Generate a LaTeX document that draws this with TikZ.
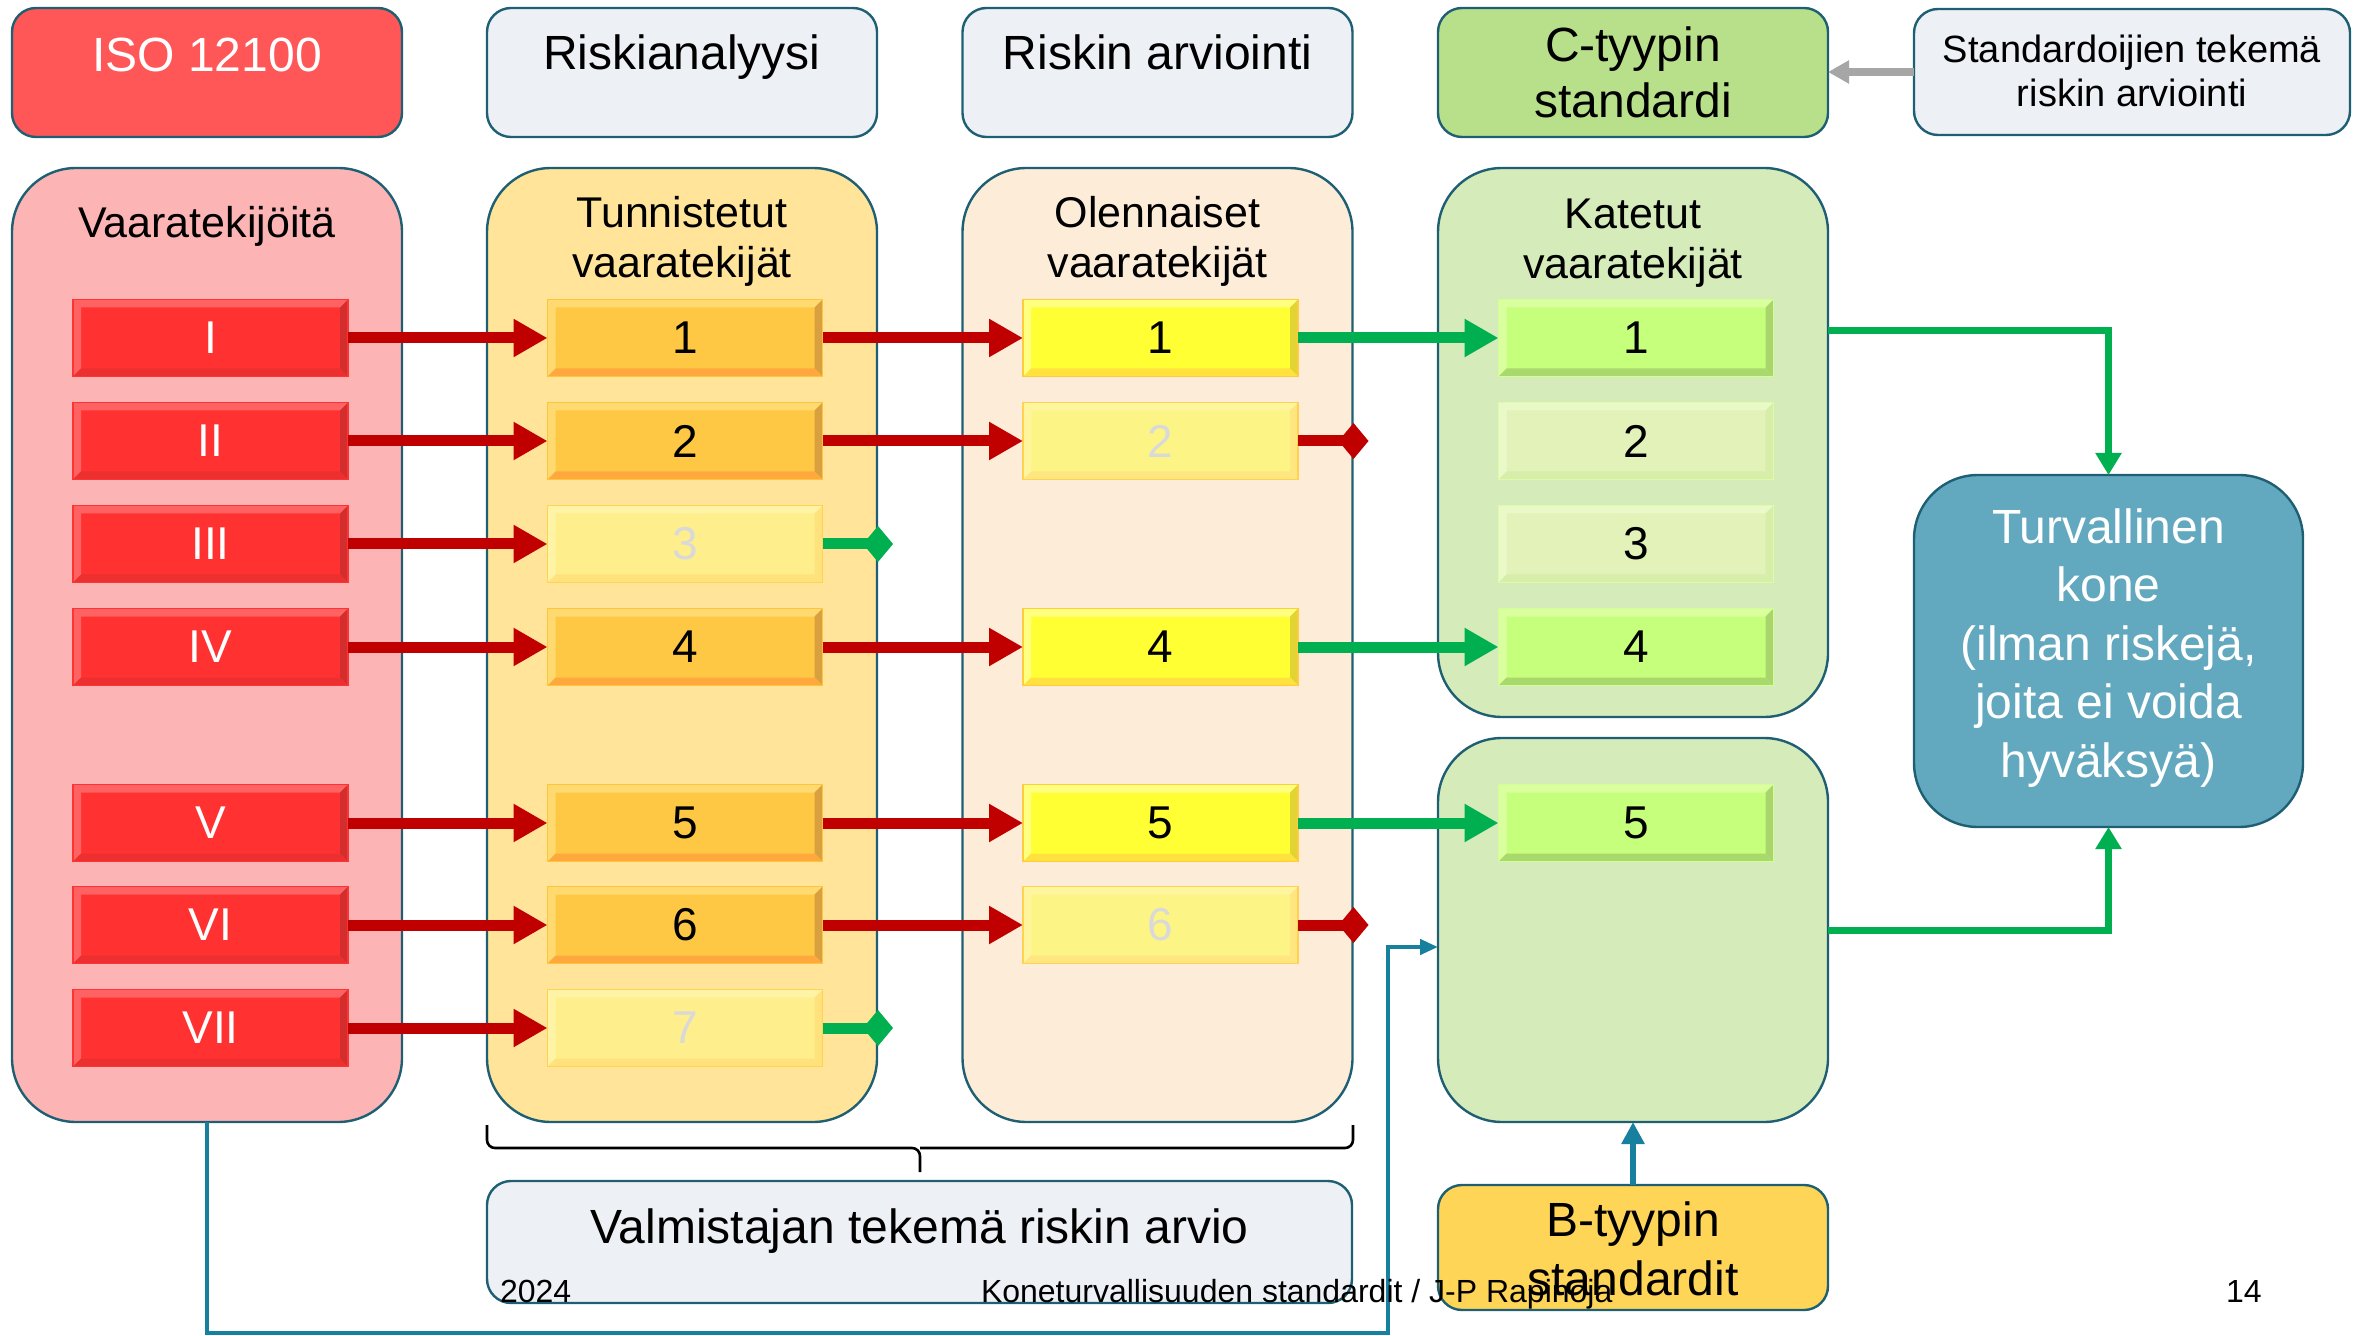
\documentclass[tikz,border=0pt]{standalone}
\usepackage{fontspec}
\setmainfont{Liberation Sans}
\usetikzlibrary{arrows.meta,calc}

% frame and panel colours
\definecolor{edge}{HTML}{1F5F74}
\definecolor{isored}{HTML}{FF5757}
\definecolor{pale}{HTML}{EDF0F5}
\definecolor{pinkbg}{HTML}{FDB4B4}
\definecolor{ambbg}{HTML}{FFE499}
\definecolor{peachbg}{HTML}{FDEDD8}
\definecolor{greenbg}{HTML}{D5EBBA}
\definecolor{ctype}{HTML}{B8E08A}
\definecolor{safe}{HTML}{62A8BE}
\definecolor{btype}{HTML}{FFD557}
% connector colours
\definecolor{arrred}{HTML}{C00000}
\definecolor{arrgreen}{HTML}{00B050}
\definecolor{arrblue}{HTML}{17809F}
\definecolor{arrgray}{HTML}{A6A6A6}
\definecolor{ghost}{HTML}{D9D9D9}
% bevelled tile colours: base, light, dark, bottom, border
\definecolor{rBase}{HTML}{FF3131}\definecolor{rLight}{HTML}{FF6262}\definecolor{rDark}{HTML}{D22E2E}\definecolor{rBot}{HTML}{EC3030}\definecolor{rEdge}{HTML}{FF3333}
\definecolor{oBase}{HTML}{FFC844}\definecolor{oLight}{HTML}{FFDA70}\definecolor{oDark}{HTML}{D9A040}\definecolor{oBot}{HTML}{FFA83E}\definecolor{oEdge}{HTML}{FFC53A}
\definecolor{ofBase}{HTML}{FFEE8C}\definecolor{ofLight}{HTML}{FFF3A6}\definecolor{ofDark}{HTML}{FFE27C}\definecolor{ofBot}{HTML}{FFE27C}\definecolor{ofEdge}{HTML}{FFD351}
\definecolor{yBase}{HTML}{FFFF33}\definecolor{yLight}{HTML}{FFFF80}\definecolor{yDark}{HTML}{E2D432}\definecolor{yBot}{HTML}{FFE23E}\definecolor{yEdge}{HTML}{FFCC40}
\definecolor{yfBase}{HTML}{FCF585}\definecolor{yfLight}{HTML}{FFF59E}\definecolor{yfDark}{HTML}{FFE680}\definecolor{yfBot}{HTML}{FFE680}\definecolor{yfEdge}{HTML}{FFD351}
\definecolor{gBase}{HTML}{C6FF7C}\definecolor{gLight}{HTML}{DAFF9E}\definecolor{gDark}{HTML}{A9D56C}\definecolor{gBot}{HTML}{A9D86C}\definecolor{gEdge}{HTML}{D2FF95}
\definecolor{gfBase}{HTML}{E2F2B8}\definecolor{gfLight}{HTML}{EAF9C8}\definecolor{gfDark}{HTML}{D6EEAA}\definecolor{gfBot}{HTML}{D6EEAA}\definecolor{gfEdge}{HTML}{DDFCA5}

\begin{document}
\begin{tikzpicture}[x=0.5pt,y=-0.5pt,
  every node/.style={inner sep=0pt,outer sep=0pt},
  headbox/.style={draw=edge,line width=1.2pt,rounded corners=12pt,minimum width=195pt,minimum height=64.5pt},
  panel/.style={draw=edge,line width=1.2pt,rounded corners=32pt,minimum width=195pt},
  txt/.style={align=center,anchor=base,font=\fontsize{24}{28}\selectfont},
  coltitle/.style={align=center,anchor=base,font=\fontsize{21.5}{25}\selectfont},
  tile/.style n args={5}{rectangle,minimum width=137.5pt,minimum height=38.5pt,
    fill=#1,draw=#5,line width=0.8pt,font=\fontsize{23}{27}\selectfont,
    path picture={
      \path (path picture bounding box.north west) coordinate (pnw)
            (path picture bounding box.north east) coordinate (pne)
            (path picture bounding box.south west) coordinate (psw)
            (path picture bounding box.south east) coordinate (pse);
      \fill[#2] (pnw) -- (pne) -- ([shift={(-4pt,-4pt)}]pne) -- ([shift={(4pt,-4pt)}]pnw) -- cycle;
      \fill[#2] (pnw) -- (psw) -- ([shift={(4pt,4pt)}]psw) -- ([shift={(4pt,-4pt)}]pnw) -- cycle;
      \fill[#3] (pne) -- (pse) -- ([shift={(-4pt,4pt)}]pse) -- ([shift={(-4pt,-4pt)}]pne) -- cycle;
      \fill[#4] (psw) -- (pse) -- ([shift={(-4pt,4pt)}]pse) -- ([shift={(4pt,4pt)}]psw) -- cycle;
    }},
  redtile/.style={tile={rBase}{rLight}{rDark}{rBot}{rEdge},text=white},
  ortile/.style={tile={oBase}{oLight}{oDark}{oBot}{oEdge}},
  orfade/.style={tile={ofBase}{ofLight}{ofDark}{ofBot}{ofEdge},text=ghost},
  yetile/.style={tile={yBase}{yLight}{yDark}{yBot}{yEdge}},
  yefade/.style={tile={yfBase}{yfLight}{yfDark}{yfBot}{yfEdge},text=ghost},
  grtile/.style={tile={gBase}{gLight}{gDark}{gBot}{gEdge}},
  grfade/.style={tile={gfBase}{gfLight}{gfDark}{gfBot}{gfEdge}},
  redarrow/.style={draw=arrred,line width=5.5pt,-{Triangle[length=17pt,width=18pt]}},
  grnarrow/.style={draw=arrgreen,line width=5.5pt,-{Triangle[length=17pt,width=18pt]}},
  reddead/.style={draw=arrred,line width=5.5pt,-{Diamond[length=15pt,width=18pt]}},
  grndead/.style={draw=arrgreen,line width=5.5pt,-{Diamond[length=15pt,width=18pt]}},
  safearrow/.style={draw=arrgreen,line width=3.5pt,-{Triangle[length=11pt,width=12.5pt]}},
  bluearrow/.style={draw=arrblue,line width=2.2pt,-{Triangle[length=9pt,width=7.5pt]}},
  btarrow/.style={draw=arrblue,line width=3.2pt,-{Triangle[length=11pt,width=11pt]}},
  grayarrow/.style={draw=arrgray,line width=4pt,-{Triangle[length=10.5pt,width=11pt]}},
  bracket/.style={draw=black,line width=1.3pt,rounded corners=4pt},
  foot/.style={anchor=base west,font=\fontsize{16}{19}\selectfont}
]
\useasboundingbox (0,0) rectangle (2371,1336);

% header boxes
\node[headbox,fill=isored] (iso) at (207,72.5) {};
\node[headbox,fill=pale] (ana) at (682,72.5) {};
\node[headbox,fill=pale] (arv) at (1157.5,72.5) {};
\node[headbox,fill=ctype] (cty) at (1633,72.5) {};
\node[headbox,fill=pale,minimum width=218pt,minimum height=63pt] (std) at (2132,72) {};
% (multi-line texts are placed by the baseline of their last line)
\node[txt,text=white] (isoT) at (207,72) {ISO 12100};
\node[txt] (anaT) at (682,70) {Riskianalyysi};
\node[txt] (arvT) at (1157.5,70) {Riskin arviointi};
\node[txt] (ctyT) at (1633,118) {C-tyypin\\standardi};
\node[txt,font=\fontsize{19}{22}\selectfont] (stdT) at (2132,107) {Standardoijien tekemä\\riskin arviointi};

% column panels
\node[panel,fill=pinkbg,minimum height=477pt] (c1) at (207,645) {};
\node[panel,fill=ambbg,minimum height=477pt] (c2) at (682,645) {};
\node[panel,fill=peachbg,minimum height=477pt] (c3) at (1157.5,645) {};
\node[panel,fill=greenbg,minimum height=274.5pt] (c4a) at (1633,442.5) {};
\node[panel,fill=greenbg,minimum height=192pt] (c4b) at (1633,930) {};
\node[panel,fill=safe,minimum width=194.5pt,minimum height=176pt] (turv) at (2108.5,651) {};
\node[headbox,fill=btype,minimum height=62.5pt] (bty) at (1633,1247.5) {};
\node[headbox,fill=pale,minimum width=432.5pt,minimum height=61pt] (valm) at (919.5,1242) {};

\node[coltitle] (t1) at (207,238) {Vaaratekijöitä};
\node[coltitle] (t2) at (682,278) {Tunnistetut\\vaaratekijät};
\node[coltitle] (t3) at (1157.5,278) {Olennaiset\\vaaratekijät};
\node[coltitle] (t4) at (1633,279) {Katetut\\vaaratekijät};
\node[txt,text=white,font=\fontsize{24}{29.25}\selectfont] (turvT) at (2108.5,777) {Turvallinen\\kone\\(ilman riskejä,\\joita ei voida\\hyväksyä)};
\node[txt] (valmT) at (919.5,1243) {Valmistajan tekemä riskin arvio};
\node[txt,font=\fontsize{24}{29.5}\selectfont] (btyT) at (1633,1295) {B-tyypin\\standardit};

% hazard tiles
\node[redtile] (h1) at (210.5,338) {I};
\node[redtile] (h2) at (210.5,441) {II};
\node[redtile] (h3) at (210.5,544) {III};
\node[redtile] (h4) at (210.5,647) {IV};
\node[redtile] (h5) at (210.5,823) {V};
\node[redtile] (h6) at (210.5,925) {VI};
\node[redtile] (h7) at (210.5,1028) {VII};

\node[ortile] (a1) at (685,338) {1};
\node[ortile] (a2) at (685,441) {2};
\node[orfade] (a3) at (685,544) {3};
\node[ortile] (a4) at (685,647) {4};
\node[ortile] (a5) at (685,823) {5};
\node[ortile] (a6) at (685,925) {6};
\node[orfade] (a7) at (685,1028) {7};

\node[yetile] (e1) at (1160.5,338) {1};
\node[yefade] (e2) at (1160.5,441) {2};
\node[yetile] (e4) at (1160.5,647) {4};
\node[yetile] (e5) at (1160.5,823) {5};
\node[yefade] (e6) at (1160.5,925) {6};

\node[grtile] (k1) at (1636,338) {1};
\node[grfade] (k2) at (1636,441) {2};
\node[grfade] (k3) at (1636,544) {3};
\node[grtile] (k4) at (1636,647) {4};
\node[grtile] (k5) at (1636,823) {5};

% connectors
\foreach \i in {1,...,7} \draw[redarrow] (h\i.east) -- (a\i.west);
\foreach \i in {1,2,4,5,6} \draw[redarrow] (a\i.east) -- (e\i.west);
\foreach \i in {1,4,5} \draw[grnarrow] (e\i.east) -- (k\i.west);

\coordinate (x2) at ($(e2.east -| c3.east)+(8pt,0pt)$);
\coordinate (x6) at ($(e6.east -| c3.east)+(8pt,0pt)$);
\coordinate (x3) at ($(a3.east -| c2.east)+(8pt,0pt)$);
\coordinate (x7) at ($(a7.east -| c2.east)+(8pt,0pt)$);
\draw[reddead] (e2.east) -- (x2);
\draw[reddead] (e6.east) -- (x6);
\draw[grndead] (a3.east) -- (x3);
\draw[grndead] (a7.east) -- (x7);

\draw[safearrow] ($(k1.east -| c4a.east)+(0pt,3.5pt)$) -| (turv.north);
\draw[safearrow] (c4b.east) -| (turv.south);
\draw[grayarrow] (std.west) -- (cty.east |- std.west);
\draw[btarrow] (bty.north) -- (c4b.south);

\coordinate (bend) at (1388,1333);
\draw[bluearrow] (c1.south) |- (bend) |- ($(c4b.west)+(0pt,-8.5pt)$);

% bracket under the two middle panels
\draw[bracket] (487,1125) -- (487,1148) -- (920,1148) -- (920,1172);
\draw[bracket] (920,1148) -- (1353,1148) -- (1353,1125);

% slide footer
\node[foot] (year) at (500,1302) {2024};
\node[foot] (title) at (981,1302) {Koneturvallisuuden standardit / J-P Rapinoja};
\node[foot] (page) at (2226,1302) {14};
\end{tikzpicture}
\end{document}
